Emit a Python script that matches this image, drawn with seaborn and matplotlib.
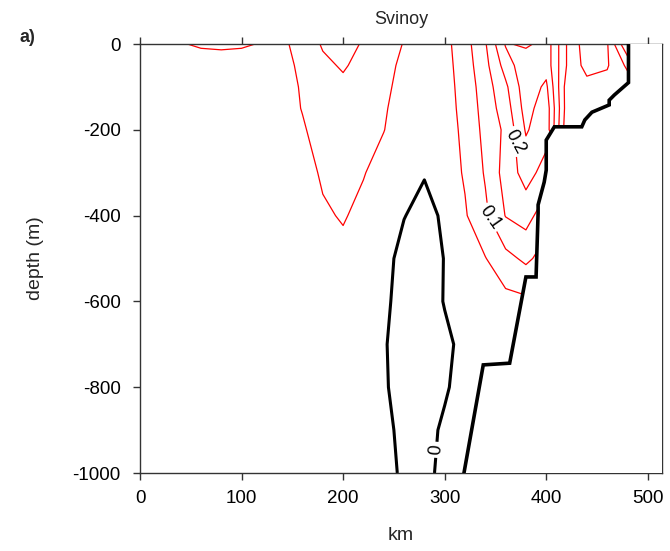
import numpy as np
import matplotlib
matplotlib.use("Agg")
import matplotlib.pyplot as plt
import seaborn as sns

sns.set_theme(style="white")
plt.rcParams['font.family'] = ['Liberation Sans', 'DejaVu Sans']
plt.rcParams['axes.unicode_minus'] = False

# ---- data -------------------------------------------------------------
distance_km = [0, 20, 40, 60, 80, 100, 120, 140, 160, 180, 200, 220, 240,
               260, 280, 300, 320, 340, 360, 380, 400, 420, 440, 460, 480, 500]
depth_m = [0, -50, -100, -150, -200, -300, -400, -500, -600, -700, -800, -900, -1000]

# velocity (m/s) along each depth level, one value per distance node
v_0000 = [0.02, 0.03, 0.045, 0.06, 0.065, 0.06, 0.045, 0.04, 0.07, 0.105, 0.12, 0.095, 0.07,
          0.048, 0.03, 0.035, 0.08, 0.145, 0.255, 0.24, 0.27, 0.40, 0.48, 0.455, 0.30, 0.30]
v_0050 = [0.01, 0.01, 0.01, 0.01, 0.01, 0.01, 0.015, 0.035, 0.06, 0.09, 0.105, 0.085, 0.065,
          0.04, 0.025, 0.032, 0.075, 0.135, 0.22, 0.29, 0.27, 0.40, 0.47, 0.455, 0.39, 0.39]
v_0100 = [0.01, 0.01, 0.012, 0.012, 0.012, 0.012, 0.015, 0.03, 0.055, 0.08, 0.09, 0.08, 0.06,
          0.035, 0.02, 0.03, 0.07, 0.125, 0.19, 0.28, 0.24, 0.42, 0.43, 0.43, 0.43, 0.43]
v_0150 = [0.01, 0.01, 0.012, 0.012, 0.012, 0.012, 0.015, 0.03, 0.052, 0.075, 0.082, 0.072, 0.055,
          0.03, 0.018, 0.03, 0.065, 0.12, 0.175, 0.27, 0.22, 0.42, 0.42, 0.42, 0.42, 0.42]
v_0200 = [0.012, 0.012, 0.012, 0.012, 0.012, 0.012, 0.015, 0.028, 0.045, 0.07, 0.075, 0.065, 0.051,
          0.03, 0.015, 0.03, 0.06, 0.115, 0.16, 0.255, 0.22, 0.43, 0.42, 0.42, 0.42, 0.42]
v_0300 = [0.015, 0.015, 0.015, 0.015, 0.015, 0.015, 0.015, 0.025, 0.035, 0.055, 0.065, 0.052, 0.035,
          0.015, 0.002, 0.025, 0.055, 0.105, 0.17, 0.22, 0.18, 0.20, 0.20, 0.20, 0.20, 0.20]
v_0400 = [0.015, 0.015, 0.015, 0.015, 0.015, 0.015, 0.015, 0.02, 0.03, 0.045, 0.053, 0.04, 0.03,
          0.001, -0.01, 0.005, 0.045, 0.09, 0.152, 0.17, 0.12, 0.10, 0.10, 0.10, 0.10, 0.10]
v_0500 = [0.015, 0.015, 0.015, 0.015, 0.015, 0.015, 0.015, 0.02, 0.025, 0.03, 0.04, 0.02, 0.01,
          -0.01, -0.015, 0.001, 0.02, 0.048, 0.085, 0.11, 0.08, 0.05, 0.05, 0.05, 0.05, 0.05]
v_0600 = [0.015, 0.015, 0.015, 0.015, 0.015, 0.015, 0.015, 0.02, 0.02, 0.02, 0.02, 0.015, 0.008,
          -0.015, -0.02, 0.002, 0.012, 0.02, 0.035, 0.04, 0.03, 0.02, 0.02, 0.02, 0.02, 0.02]
v_0700 = [0.015, 0.015, 0.015, 0.015, 0.015, 0.015, 0.015, 0.015, 0.015, 0.015, 0.015, 0.012, 0.004,
          -0.02, -0.02, -0.008, 0.01, 0.02, 0.02, 0.01, 0.01, 0.01, 0.01, 0.01, 0.01, 0.01]
v_0800 = [0.015, 0.015, 0.015, 0.015, 0.015, 0.015, 0.015, 0.015, 0.015, 0.015, 0.015, 0.012, 0.006,
          -0.02, -0.015, -0.003, 0.01, 0.01, 0.01, 0.01, 0.01, 0.01, 0.01, 0.01, 0.01, 0.01]
v_0900 = [0.015, 0.015, 0.015, 0.015, 0.015, 0.015, 0.015, 0.015, 0.015, 0.015, 0.015, 0.015, 0.01,
          -0.01, -0.008, 0.004, 0.008, 0.008, 0.008, 0.008, 0.008, 0.008, 0.008, 0.008, 0.008, 0.008]
v_1000 = [0.015, 0.015, 0.015, 0.015, 0.015, 0.015, 0.015, 0.015, 0.015, 0.015, 0.015, 0.015, 0.012,
          -0.006, -0.004, 0.004, 0.005, 0.005, 0.005, 0.005, 0.005, 0.005, 0.005, 0.005, 0.005, 0.005]

# bottom topography (staircase)
bottom_km = [481, 481, 467, 462, 462, 445, 438, 435, 408, 400, 400, 398, 392, 392,
             390, 380, 364, 338, 319]
bottom_depth = [0, -90, -119, -131, -142, -159, -177, -193, -193, -224, -294, -322, -375, -394,
                -543, -543, -744, -748, -1000]

unlabeled_levels = [0.05, 0.15, 0.25, 0.30, 0.35, 0.40, 0.45]
labeled_levels = [0.1, 0.2]
zero_level = 0.0

# ---- figure -----------------------------------------------------------
velocity = np.array([v_0000, v_0050, v_0100, v_0150, v_0200, v_0300, v_0400,
                     v_0500, v_0600, v_0700, v_0800, v_0900, v_1000])
X, Y = np.meshgrid(distance_km, depth_m)

W, H = 670, 551
fig = plt.figure(figsize=(W / 100, H / 100), dpi=100)
ax = fig.add_axes([140 / W, 1 - 473 / H, (662 - 140) / W, (473 - 44) / H])

lab_kw = dict(inline=True, fmt='%g', fontsize=13, colors='black', inline_spacing=3)

ax.contour(X, Y, velocity, levels=unlabeled_levels, colors='red', linewidths=0.9, zorder=2)
label_spots = {0.1: (346, -403), 0.2: (366, -228)}
label_angle = {0.1: -55, 0.2: -62}
for lev in labeled_levels:
    cs = ax.contour(X, Y, velocity, levels=[lev], colors='red', linewidths=0.9, zorder=2)
    texts = ax.clabel(cs, manual=[label_spots[lev]], **lab_kw)
    for t in texts:
        t.set_rotation(label_angle[lev])
cs_zero = ax.contour(X, Y, velocity, levels=[zero_level], colors='black',
                     linewidths=2.2, zorder=2)
ax.clabel(cs_zero, manual=[(292, -946)], **lab_kw)

# mask below the bottom
poly_x = list(bottom_km) + [600, 600]
poly_y = list(bottom_depth) + [-1000, 0]
ax.fill(poly_x, poly_y, color='white', zorder=3, lw=0)
ax.plot(bottom_km, bottom_depth, color='black', lw=2.6, zorder=4,
        solid_joinstyle='miter')

ax.set_xlim(0, 514)
ax.set_ylim(-1000, 0)
ax.set_xticks([0, 100, 200, 300, 400, 500])
ax.set_yticks([-1000, -800, -600, -400, -200, 0])
ax.tick_params(axis='both', which='both', direction='out', length=5, width=1,
               color='#333333', labelsize=13.5, labelcolor='black')
ax.tick_params(axis='x', top=True, bottom=True, labeltop=False, pad=7)
ax.tick_params(axis='y', left=True, right=False, pad=9)
for s in ax.spines.values():
    s.set_color('#333333')
    s.set_linewidth(1.0)
    s.set_visible(True)

fig.text(401 / W, 1 - 20 / H, 'Svinoy', ha='center', va='center', fontsize=13)
fig.text(27 / W, 1 - 37 / H, 'a)', ha='center', va='center', fontsize=13, fontweight='bold')
fig.text(401 / W, 1 - 536 / H, 'km', ha='center', va='center', fontsize=14)
fig.text(35 / W, 1 - 258 / H, 'depth (m)', ha='center', va='center', fontsize=14,
         rotation=90)

fig.savefig('out.png', dpi=100)
